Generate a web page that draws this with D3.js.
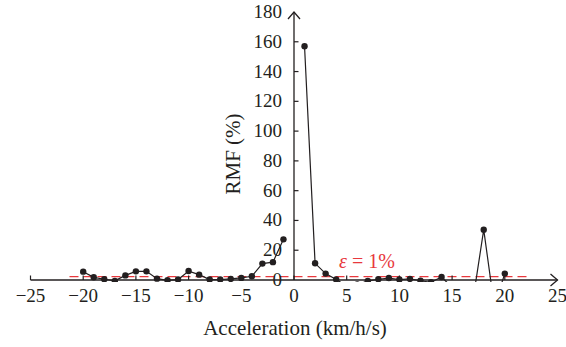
<!DOCTYPE html>
<html>
<head>
<meta charset="utf-8">
<script src="https://cdn.jsdelivr.net/npm/d3@7"></script>
<style>
  html, body { margin: 0; padding: 0; background: #fff; }
  svg { display: block; }
  text { font-family: "Liberation Serif", "Times New Roman", serif; }
</style>
</head>
<body>
<svg id="chart" width="566" height="347"></svg>
<script>
// ---- data ----
const accel = [-20,-19,-18,-17,-16,-15,-14,-13,-12,-11,-10,-9,-8,-7,-6,-5,-4,-3,-2,-1,0,1,2,3,4,5,6,7,8,9,10,11,12,13,14,15,16,17,18,19,20];
const rmf   = [5.6,1.8,0.5,-0.6,3.1,5.8,5.8,0.9,-0.2,0.3,6,3.6,0.3,0.3,0.7,1.4,2.5,11,12,27.3,null,157,11.2,4.3,0.3,-4,-3,-0.7,0.5,1.3,0.3,0.7,-0.5,-1.5,2,-5,-8,-12.6,33.8,-17.5,4.3];
const xTicks = [-25,-20,-15,-10,-5,0,5,10,15,20,25];
const yTicks = [0,20,40,60,80,100,120,140,160,180];
const threshold = 1;
const thresholdRange = [-21.3, 22.4];
const xTitle = "Acceleration (km/h/s)";
const yTitle = "RMF (%)";

// ---- layout ----
const svg = d3.select("#chart");
const x = d3.scaleLinear().domain([-25, 25]).range([30.5, 557.5]);
const y = d3.scaleLinear().domain([0, 180]).range([280, 12]);
const ink = "#231f20";
const red = "#e8383d";
const fs = 18;
const fsTitle = 21;

// clip (values below the axis are hidden)
svg.append("defs").append("clipPath").attr("id", "plotclip")
  .append("rect").attr("x", 0).attr("y", 0).attr("width", 566).attr("height", y(0) + 2);

// threshold line
svg.append("line")
  .attr("x1", x(thresholdRange[0])).attr("x2", x(thresholdRange[1]))
  .attr("y1", y(threshold) - 1.8).attr("y2", y(threshold) - 1.8)
  .attr("stroke", red).attr("stroke-width", 1.2).attr("stroke-dasharray", "9,5");

// x axis
const xAxisG = svg.append("g");
xAxisG.append("line").attr("x1", x(-25)).attr("x2", x(25)).attr("y1", y(0)).attr("y2", y(0))
  .attr("stroke", ink).attr("stroke-width", 1.3);
xAxisG.append("path")
  .attr("d", `M${x(25)-7},${y(0)-6} L${x(25)},${y(0)} L${x(25)-7},${y(0)+6}`)
  .attr("fill", "none").attr("stroke", ink).attr("stroke-width", 1.3);
xAxisG.selectAll("line.tick").data(xTicks.filter(d => d < 25)).enter().append("line")
  .attr("class", "tick")
  .attr("x1", d => x(d)).attr("x2", d => x(d)).attr("y1", y(0)).attr("y2", y(0) - 4.5)
  .attr("stroke", ink).attr("stroke-width", 1.2);
xAxisG.selectAll("text").data(xTicks).enter().append("text")
  .attr("x", d => x(d)).attr("y", 302)
  .attr("text-anchor", "middle").attr("font-size", fs + 1).attr("fill", ink)
  .text(d => d < 0 ? "\u2212" + Math.abs(d) : String(d));

// y axis
const yAxisG = svg.append("g");
yAxisG.append("line").attr("x1", x(0)).attr("x2", x(0)).attr("y1", y(0)).attr("y2", y(180))
  .attr("stroke", ink).attr("stroke-width", 1.3);
yAxisG.append("path")
  .attr("d", `M${x(0)-6},${y(180)+7} L${x(0)},${y(180)} L${x(0)+6},${y(180)+7}`)
  .attr("fill", "none").attr("stroke", ink).attr("stroke-width", 1.3);
yAxisG.selectAll("line.tick").data(yTicks.filter(d => d > 0 && d < 180)).enter().append("line")
  .attr("class", "tick")
  .attr("x1", x(0)).attr("x2", x(0) + 4.5).attr("y1", d => y(d)).attr("y2", d => y(d))
  .attr("stroke", ink).attr("stroke-width", 1.2);
yAxisG.selectAll("text").data(yTicks).enter().append("text")
  .attr("x", x(0) - 12).attr("y", d => y(d) + 6)
  .attr("text-anchor", "end").attr("font-size", fs + 1).attr("fill", ink)
  .text(d => String(d));

// titles
svg.append("text").attr("x", 295).attr("y", 335).attr("text-anchor", "middle")
  .attr("font-size", fsTitle).attr("fill", ink).text(xTitle);
svg.append("text").attr("transform", "translate(240,154) rotate(-90)").attr("text-anchor", "middle")
  .attr("font-size", fsTitle).attr("fill", ink).text(yTitle);

// threshold label
const lbl = svg.append("text").attr("x", 339).attr("y", 268).attr("font-size", 20).attr("fill", red);
lbl.append("tspan").attr("font-style", "italic").text("\u03b5");
lbl.append("tspan").text(" = " + threshold + "%");

// data line and points
const pts = accel.map((a, i) => ({ a, v: rmf[i] }));
const plot = svg.append("g").attr("clip-path", "url(#plotclip)");
plot.append("path")
  .datum(pts)
  .attr("d", d3.line().defined(d => d.v !== null).x(d => x(d.a)).y(d => y(d.v)))
  .attr("fill", "none").attr("stroke", ink).attr("stroke-width", 1.2);
plot.selectAll("circle").data(pts.filter(d => d.v !== null)).enter().append("circle")
  .attr("cx", d => x(d.a)).attr("cy", d => y(d.v)).attr("r", 3.2).attr("fill", ink);
</script>
</body>
</html>
